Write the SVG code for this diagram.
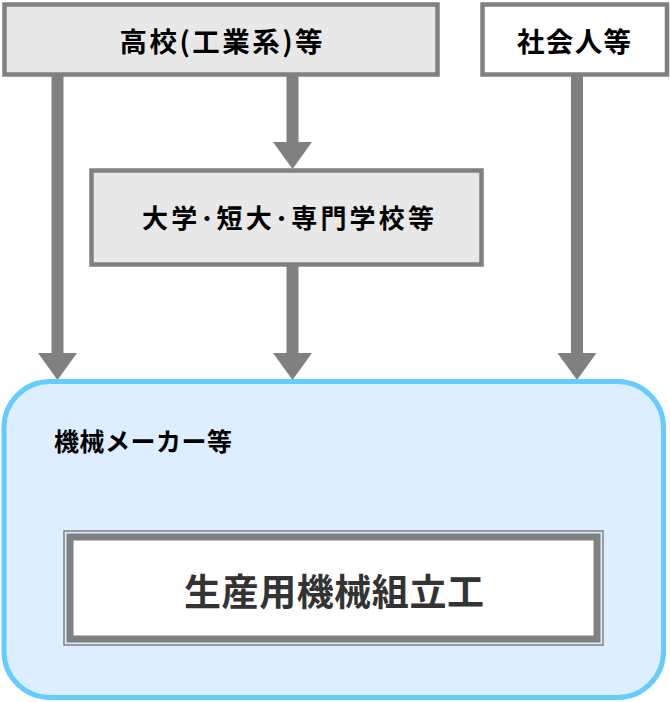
<svg xmlns="http://www.w3.org/2000/svg" width="670" height="702" viewBox="0 0 670 702">
<style>
.box{fill:#e8e8e8;stroke:#808080;stroke-width:4.5}
.wbox{fill:#ffffff;stroke:#808080;stroke-width:4.5}
.lbl{font-family:"Noto Sans CJK JP","Noto Sans CJK SC",sans-serif;font-weight:bold;fill:#000;text-anchor:middle;dominant-baseline:central}
.conn{stroke:#808080;stroke-width:12;fill:none;marker-end:url(#ah)}
</style>
<defs>
<marker id="ah" markerUnits="userSpaceOnUse" markerWidth="27" markerHeight="39" viewBox="0 0 27 39" refX="0" refY="19.5" orient="auto">
<path d="M0,0 L27,19.5 L0,39 Z" fill="#808080"/>
</marker>
</defs>
<g id="connectors">
<line class="conn" x1="57.5" y1="76" x2="57.5" y2="353"/>
<line class="conn" x1="292.5" y1="76" x2="292.5" y2="142"/>
<line class="conn" x1="292.5" y1="266" x2="292.5" y2="353"/>
<line class="conn" x1="577" y1="76" x2="577" y2="353"/>
</g>
<g id="node-koukou">
<rect class="box" x="4.5" y="4.5" width="433" height="70"/>
<text class="lbl" x="221" y="40" font-size="27.5" textLength="203" lengthAdjust="spacing">高校(工業系)等</text>
</g>
<g id="node-shakaijin">
<rect class="wbox" x="482.5" y="4.5" width="184.5" height="70"/>
<text class="lbl" x="574" y="40" font-size="27.5" textLength="114" lengthAdjust="spacing">社会人等</text>
</g>
<g id="node-daigaku">
<rect class="box" x="91.5" y="170.5" width="390" height="94"/>
<text class="lbl" x="288" y="216" font-size="26" textLength="292" lengthAdjust="spacing">大学･短大･専門学校等</text>
</g>
<g id="node-maker">
<rect x="4" y="381.5" width="659.5" height="316" rx="46" ry="46" fill="#dceeff" stroke="#66ccff" stroke-width="5"/>
<text class="lbl" x="143" y="440" font-size="25" textLength="178" lengthAdjust="spacing">機械メーカー等</text>
</g>
<g id="node-kumitate">
<rect x="64" y="531" width="539" height="114" fill="none" stroke="#808080" stroke-width="1.5"/>
<rect x="70" y="537" width="527" height="102" fill="#ffffff" stroke="#808080" stroke-width="7"/>
<text class="lbl" x="334" y="590" font-size="37" style="fill:#333333" textLength="300" lengthAdjust="spacing">生産用機械組立工</text>
</g>
</svg>
